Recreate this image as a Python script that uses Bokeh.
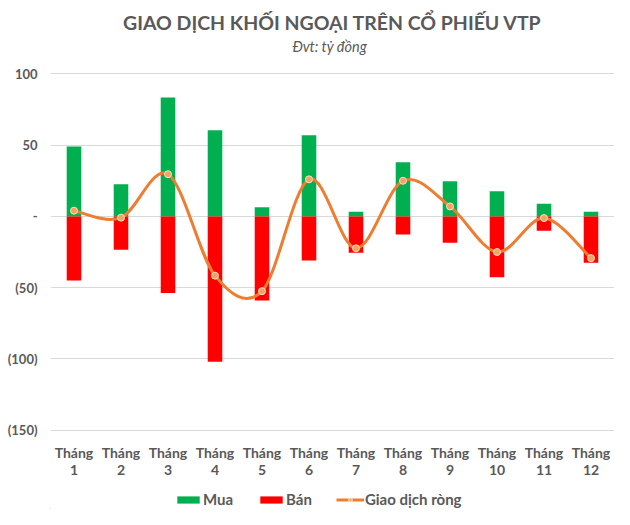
from bokeh.plotting import figure
from bokeh.models import Legend, LegendItem, FixedTicker, Range1d
from bokeh.core.properties import value
from bokeh.layouts import column
from bokeh.embed import file_html
from bokeh.resources import INLINE

title_text = "GIAO DỊCH KHỐI NGOẠI TRÊN CỔ PHIẾU VTP"
subtitle_text = "Đvt: tỷ đồng"
months = ["Tháng\n1", "Tháng\n2", "Tháng\n3", "Tháng\n4", "Tháng\n5", "Tháng\n6",
          "Tháng\n7", "Tháng\n8", "Tháng\n9", "Tháng\n10", "Tháng\n11", "Tháng\n12"]
mua = [49, 22.5, 83.4, 60.4, 6.5, 57, 3.2, 38, 24.7, 17.7, 8.8, 3.2]
ban = [-45, -23.4, -53.8, -102, -59, -31, -25.5, -12.8, -18.5, -42.8, -10, -32.5]
rong = [4, -0.9, 29.6, -41.6, -52.5, 26, -22.4, 25, 7, -25, -1.2, -29.3]
y_ticks = [-150, -100, -50, 0, 50, 100]
y_tick_labels = ["(150)", "(100)", "(50)", "-", "50", "100"]

FONT = "Lato"
GRAY = "#595959"
GREEN = "#00B050"
RED = "#FF0000"
ORANGE = "#ED7D31"
W = 614


def blank(height):
    f = figure(width=W, height=height, output_backend="svg", toolbar_location=None,
               x_axis_type=None, y_axis_type=None,
               x_range=Range1d(0, W), y_range=Range1d(0, height),
               min_border_left=0, min_border_right=0, min_border_top=0, min_border_bottom=0)
    f.grid.visible = False
    f.outline_line_color = None
    f.background_fill_color = "white"
    f.border_fill_color = "white"
    return f


# ---- title strip
tf = blank(64)
tf.text(x=[W / 2], y=[42], text=[title_text], text_align="center", text_baseline="middle",
        text_font=value(FONT), text_font_size="19.5px", text_font_style="bold", text_color=GRAY)
tf.text(x=[W / 2 - 3], y=[18], text=[subtitle_text], text_align="center", text_baseline="middle",
        text_font=value(FONT), text_font_size="14.5px", text_font_style="italic", text_color=GRAY)

# ---- main chart
x = list(range(1, len(months) + 1))
p = figure(width=W, height=425, output_backend="svg", toolbar_location=None,
           x_range=Range1d(0.5, 12.5), y_range=Range1d(-151, 101),
           min_border_left=50, min_border_right=0, min_border_top=8,
           min_border_bottom=58)
p.outline_line_color = None
p.background_fill_color = "white"
p.border_fill_color = "white"

p.vbar(x=x, top=mua, bottom=0, width=0.31, fill_color=GREEN, line_color=None)
p.vbar(x=x, top=0, bottom=ban, width=0.31, fill_color=RED, line_color=None)

# smooth curve (Catmull-Rom style Bezier through the net points)
n = len(x)
x0s, y0s, x1s, y1s, cx0, cy0, cx1, cy1 = [], [], [], [], [], [], [], []
for i in range(n - 1):
    xa, ya = x[max(i - 1, 0)], rong[max(i - 1, 0)]
    xb, yb = x[i], rong[i]
    xc, yc = x[i + 1], rong[i + 1]
    xd, yd = x[min(i + 2, n - 1)], rong[min(i + 2, n - 1)]
    x0s.append(xb); y0s.append(yb); x1s.append(xc); y1s.append(yc)
    cx0.append(xb + (xc - xa) / 6); cy0.append(yb + (yc - ya) / 6)
    cx1.append(xc - (xd - xb) / 6); cy1.append(yc - (yd - yb) / 6)
p.bezier(x0=x0s, y0=y0s, x1=x1s, y1=y1s, cx0=cx0, cy0=cy0, cx1=cx1, cy1=cy1,
         line_color=ORANGE, line_width=3)
p.scatter(x=x, y=rong, size=7, fill_color="#F4A460", line_color="#FBE0C8", line_width=1)

p.xgrid.grid_line_color = None
p.ygrid.grid_line_color = "#D9D9D9"
p.ygrid.grid_line_width = 1
p.yaxis.ticker = FixedTicker(ticks=y_ticks)
p.yaxis.major_label_overrides = {t: l for t, l in zip(y_ticks, y_tick_labels)}
p.xaxis.ticker = FixedTicker(ticks=x)
p.xaxis.major_label_overrides = {xi: m for xi, m in zip(x, months)}

for ax in (p.xaxis[0], p.yaxis[0]):
    ax.axis_line_color = None
    ax.major_tick_line_color = None
    ax.minor_tick_line_color = None
    ax.major_label_text_font = FONT
    ax.major_label_text_font_style = "bold"
    ax.major_label_text_color = GRAY
p.yaxis.major_label_text_font_size = "13px"
p.xaxis.major_label_text_font_size = "14px"
p.yaxis.major_label_standoff = 7
p.xaxis.major_label_standoff = 6
p.xaxis.major_label_text_line_height = 1.05

# ---- legend strip
lg = blank(20)
r_mua = lg.vbar(x=[-50], top=[1], width=1, fill_color=GREEN, line_color=None)
r_ban = lg.vbar(x=[-50], top=[1], width=1, fill_color=RED, line_color=None)
r_line = lg.line(x=[-50, -40], y=[0, 0], line_color=ORANGE, line_width=3)
r_pt = lg.scatter(x=[-50], y=[0], size=5, fill_color="#F4A460", line_color="#FBE0C8")

legend = Legend(items=[
    LegendItem(label="Mua", renderers=[r_mua]),
    LegendItem(label="Bán", renderers=[r_ban]),
    LegendItem(label="Giao dịch ròng", renderers=[r_line, r_pt]),
], orientation="horizontal", location=(124, 1))
legend.label_text_font = FONT
legend.label_text_font_size = "15px"
legend.label_text_font_style = "bold"
legend.label_text_color = GRAY
legend.border_line_color = None
legend.background_fill_alpha = 0
legend.glyph_width = 28
legend.glyph_height = 9
legend.label_standoff = 1
legend.spacing = 24
legend.margin = 0
legend.padding = 0
lg.add_layout(legend)

layout = column(tf, p, lg, spacing=0)
open("out.html", "w").write(file_html(layout, INLINE))
